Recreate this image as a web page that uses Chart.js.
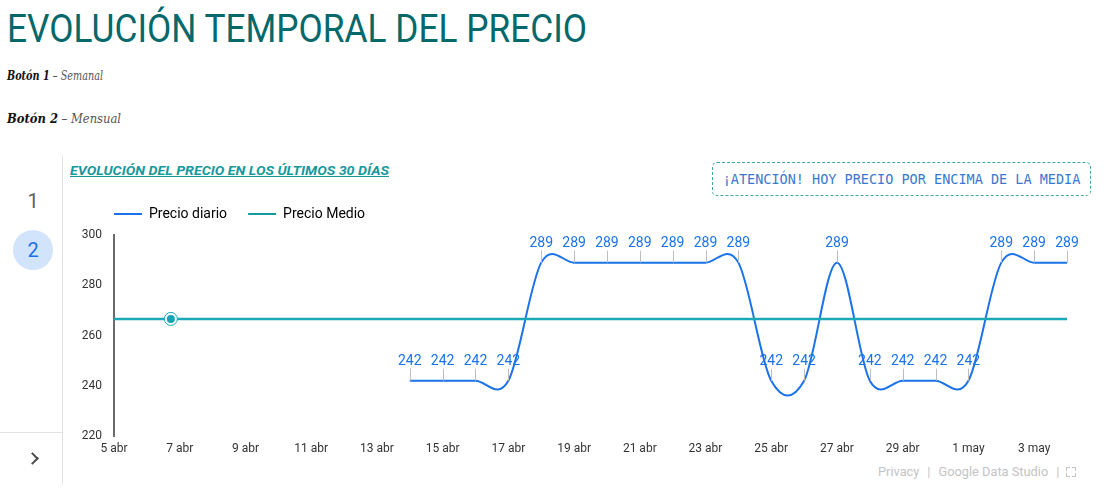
<!DOCTYPE html>
<html lang="es">
<head>
<meta charset="utf-8">
<script src="https://cdn.jsdelivr.net/npm/chart.js@4.4.1/dist/chart.umd.min.js"></script>
<style>
  html, body { margin:0; padding:0; background:#fff; }
  body { width:1104px; height:493px; position:relative; overflow:hidden; font-family: Roboto, "Noto Sans", sans-serif; }
  .abs { position:absolute; white-space:nowrap; }
  #title { left:7px; top:10px; font-size:39px; line-height:39px; color:#05686b; transform-origin:0 50%; }
  .boton { left:7px; font-family:"DejaVu Serif", serif; font-style:italic; font-size:13px; line-height:16px; color:#555; transform-origin:0 50%; }
  .boton b { color:#111; }
  #side-v { left:62px; top:155px; width:1px; height:330px; background:#e3e3e3; }
  #side-h { left:0; top:432px; width:62px; height:1px; background:#e3e3e3; }
  #n1 { left:13px; width:40px; text-align:center; top:189px; font-size:20px; line-height:24px; color:#616161; }
  #circ { left:13px; top:230px; width:40px; height:40px; border-radius:50%; background:#d2e3fc; }
  #n2 { left:13px; width:40px; text-align:center; top:238px; font-size:20px; line-height:24px; color:#1a73e8; }
  #chev { left:28px; top:454px; width:7px; height:7px; border-top:2px solid #4a4a4a; border-right:2px solid #4a4a4a; transform:rotate(45deg); }
  #sub { left:70px; top:163px; font-size:13px; line-height:16px; font-weight:700; font-style:italic; color:#17999b; text-decoration:underline; transform-origin:0 50%; }
  #box { left:712px; top:162px; width:377px; height:32px; border:1px dashed #3fa7a7; border-radius:5px; }
  #boxtxt { left:712px; width:379px; top:170px; text-align:center; font-family:"DejaVu Sans Mono", monospace; font-size:13.5px; line-height:18px; color:#3a78d0; }
  #foot { left:878px; top:464px; font-size:12.8px; line-height:16px; color:#c4c4c4; }
  #foot .sep { margin:0 8px; }
  #fs { left:1066px; top:467px; width:10px; height:10px; }
  #fs i { position:absolute; width:3px; height:3px; border-color:#c4c4c4; border-style:solid; border-width:0; }
  #wrap { position:absolute; left:62px; top:190px; width:1040px; height:281px; }
</style>
</head>
<body>
<div id="title" class="abs">EVOLUCIÓN TEMPORAL DEL PRECIO</div>
<div id="b1" class="abs boton" style="top:68px"><b>Botón 1</b> – Semanal</div>
<div id="b2" class="abs boton" style="top:111px"><b>Botón 2</b> – Mensual</div>

<div id="side-v" class="abs"></div>
<div id="side-h" class="abs"></div>
<div id="n1" class="abs">1</div>
<div id="circ" class="abs"></div>
<div id="n2" class="abs">2</div>
<div id="chev" class="abs"></div>

<div id="sub" class="abs">EVOLUCIÓN DEL PRECIO EN LOS ÚLTIMOS 30 DÍAS</div>
<div id="box" class="abs"></div>
<div id="boxtxt" class="abs">¡ATENCIÓN! HOY PRECIO POR ENCIMA DE LA MEDIA</div>

<div id="foot" class="abs">Privacy<span class="sep">|</span>Google Data Studio<span class="sep">|</span></div>
<div id="fs" class="abs">
  <i style="left:0;top:0;border-left-width:1.5px;border-top-width:1.5px"></i>
  <i style="right:0;top:0;border-right-width:1.5px;border-top-width:1.5px"></i>
  <i style="left:0;bottom:0;border-left-width:1.5px;border-bottom-width:1.5px"></i>
  <i style="right:0;bottom:0;border-right-width:1.5px;border-bottom-width:1.5px"></i>
</div>

<div id="wrap"><canvas id="c" width="1040" height="281"></canvas></div>

<script>
// ---- data ----
const dias = ['5 abr','6 abr','7 abr','8 abr','9 abr','10 abr','11 abr','12 abr','13 abr','14 abr',
  '15 abr','16 abr','17 abr','18 abr','19 abr','20 abr','21 abr','22 abr','23 abr','24 abr',
  '25 abr','26 abr','27 abr','28 abr','29 abr','30 abr','1 may','2 may','3 may','4 may'];
const precioDiario = [null,null,null,null,null,null,null,null,null,
  242,242,242,242,
  289,289,289,289,289,289,289,
  242,242,
  289,
  242,242,242,242,
  289,289,289];
const precioMedio = [266.6,266.6,266.6,266.6,266.6,266.6,266.6,266.6,266.6,266.6,
  266.6,266.6,266.6,266.6,266.6,266.6,266.6,266.6,266.6,266.6,
  266.6,266.6,266.6,266.6,266.6,266.6,266.6,266.6,266.6,266.6];
const ticksX = [0,2,4,6,8,10,12,14,16,18,20,22,24,26,28];
const ticksY = [220,240,260,280,300];
const marcadorX = [1.73];
const marcadorY = [266.6];
const nombres = ['Precio diario','Precio Medio'];

// ---- fit header texts ----
function fitWidth(id, w) {
  const el = document.getElementById(id);
  const r = el.getBoundingClientRect().width;
  el.style.transform = 'scaleX(' + (w / r) + ')';
}
fitWidth('title', 580);
fitWidth('sub', 319);
fitWidth('b1', 96);
fitWidth('b2', 114);

const AZUL = '#1a73e8';
const TEAL = '#19a9b9';
const TEAL_LEG = '#169a9c';

// uniform Catmull-Rom smoothing for the daily price line
const suavizado = {
  id: 'suavizado',
  beforeDatasetDraw(chart, args) {
    if (args.index !== 0) return;
    const meta = args.meta;
    meta.dataset.updateControlPoints(chart.chartArea, 'x');
    const pts = meta.data;
    const n = pts.length;
    for (let i = 0; i < n; i++) {
      const p = pts[i];
      if (p.skip) continue;
      const a = (i > 0 && !pts[i - 1].skip) ? pts[i - 1] : p;
      const b = (i < n - 1 && !pts[i + 1].skip) ? pts[i + 1] : p;
      let mx = (b.x - a.x) / 2, my = (b.y - a.y) / 2;
      if (a === p || b === p) { mx = (b.x - a.x); my = (b.y - a.y); }
      p.cp1x = p.x - mx / 3; p.cp1y = p.y - my / 3;
      p.cp2x = p.x + mx / 3; p.cp2y = p.y + my / 3;
    }
  }
};

const etiquetas = {
  id: 'etiquetas',
  afterDatasetsDraw(chart) {
    const meta = chart.getDatasetMeta(0);
    const ctx = chart.ctx;
    ctx.save();
    ctx.font = '14px Roboto, sans-serif';
    ctx.textAlign = 'center';
    ctx.textBaseline = 'middle';
    meta.data.forEach((pt, i) => {
      const v = precioDiario[i];
      if (v === null || pt.skip) return;
      ctx.strokeStyle = '#bdbdbd';
      ctx.lineWidth = 1;
      ctx.beginPath();
      ctx.moveTo(Math.round(pt.x) + 0.5, pt.y - 12);
      ctx.lineTo(Math.round(pt.x) + 0.5, pt.y);
      ctx.stroke();
      ctx.fillStyle = AZUL;
      ctx.fillText(String(v), pt.x, pt.y - 19);
    });
    ctx.restore();
  }
};

const legendPos = {
  id: 'legendPos',
  beforeInit(chart) {
    const fit = chart.legend.fit;
    chart.legend.fit = function () {
      fit.call(chart.legend);
      this.height = 45;
    };
  },
  afterLayout(chart) {
    chart.legend.left = 31;
    chart.legend.top = -4;
  }
};

new Chart(document.getElementById('c'), {
  type: 'line',
  data: {
    datasets: [
      { label: nombres[0], data: dias.map((d, i) => ({ x: i, y: precioDiario[i] })),
        borderColor: AZUL, backgroundColor: AZUL, borderWidth: 2, pointRadius: 0,
        tension: 0.4, spanGaps: false, order: 3 },
      { label: nombres[1], data: dias.map((d, i) => ({ x: i, y: precioMedio[i] })),
        borderColor: TEAL, backgroundColor: TEAL, borderWidth: 2.5, pointRadius: 0,
        tension: 0, order: 2 },
      { label: 'anillo', data: marcadorX.map((x, i) => ({ x: x, y: marcadorY[i] })),
        showLine: false, pointRadius: 6.5, pointBackgroundColor: '#fff',
        pointBorderColor: TEAL, pointBorderWidth: 1, order: 1 },
      { label: 'punto', data: marcadorX.map((x, i) => ({ x: x, y: marcadorY[i] })),
        showLine: false, pointRadius: 4, pointBackgroundColor: '#14a4b4',
        pointBorderWidth: 0, order: 0 }
    ]
  },
  options: {
    responsive: false,
    animation: false,
    events: [],
    layout: { padding: { left: 0, right: 35, top: 0, bottom: 15 } },
    plugins: {
      tooltip: { enabled: false },
      legend: {
        display: true,
        position: 'top',
        align: 'start',
        labels: {
          boxWidth: 28,
          boxHeight: 2,
          padding: 21,
          color: '#3c3c3c',
          font: { family: 'Roboto', size: 14 },
          generateLabels: () => [
            { text: nombres[0], fillStyle: AZUL, strokeStyle: AZUL, lineWidth: 0, datasetIndex: 0, hidden: false },
            { text: nombres[1], fillStyle: TEAL_LEG, strokeStyle: TEAL_LEG, lineWidth: 0, datasetIndex: 1, hidden: false }
          ]
        }
      }
    },
    scales: {
      x: {
        type: 'linear',
        min: 0, max: 29,
        grid: { display: false, drawTicks: false },
        border: { display: false },
        afterBuildTicks: s => { s.ticks = ticksX.map(v => ({ value: v })); },
        afterFit: s => { s.height = 20; },
        ticks: {
          autoSkip: false, maxRotation: 0, padding: 6,
          color: '#333', font: { family: 'Roboto', size: 12 },
          callback: v => dias[v]
        }
      },
      y: {
        min: 220, max: 300,
        grid: { display: false, drawTicks: false },
        border: { display: true, color: '#6b6b6b', width: 2 },
        afterBuildTicks: s => { s.ticks = ticksY.map(v => ({ value: v })); },
        afterFit: s => { s.width = 52; },
        ticks: { padding: 12, color: '#333', font: { family: 'Roboto', size: 12 } }
      }
    }
  },
  plugins: [suavizado, etiquetas, legendPos]
});
</script>
</body>
</html>
